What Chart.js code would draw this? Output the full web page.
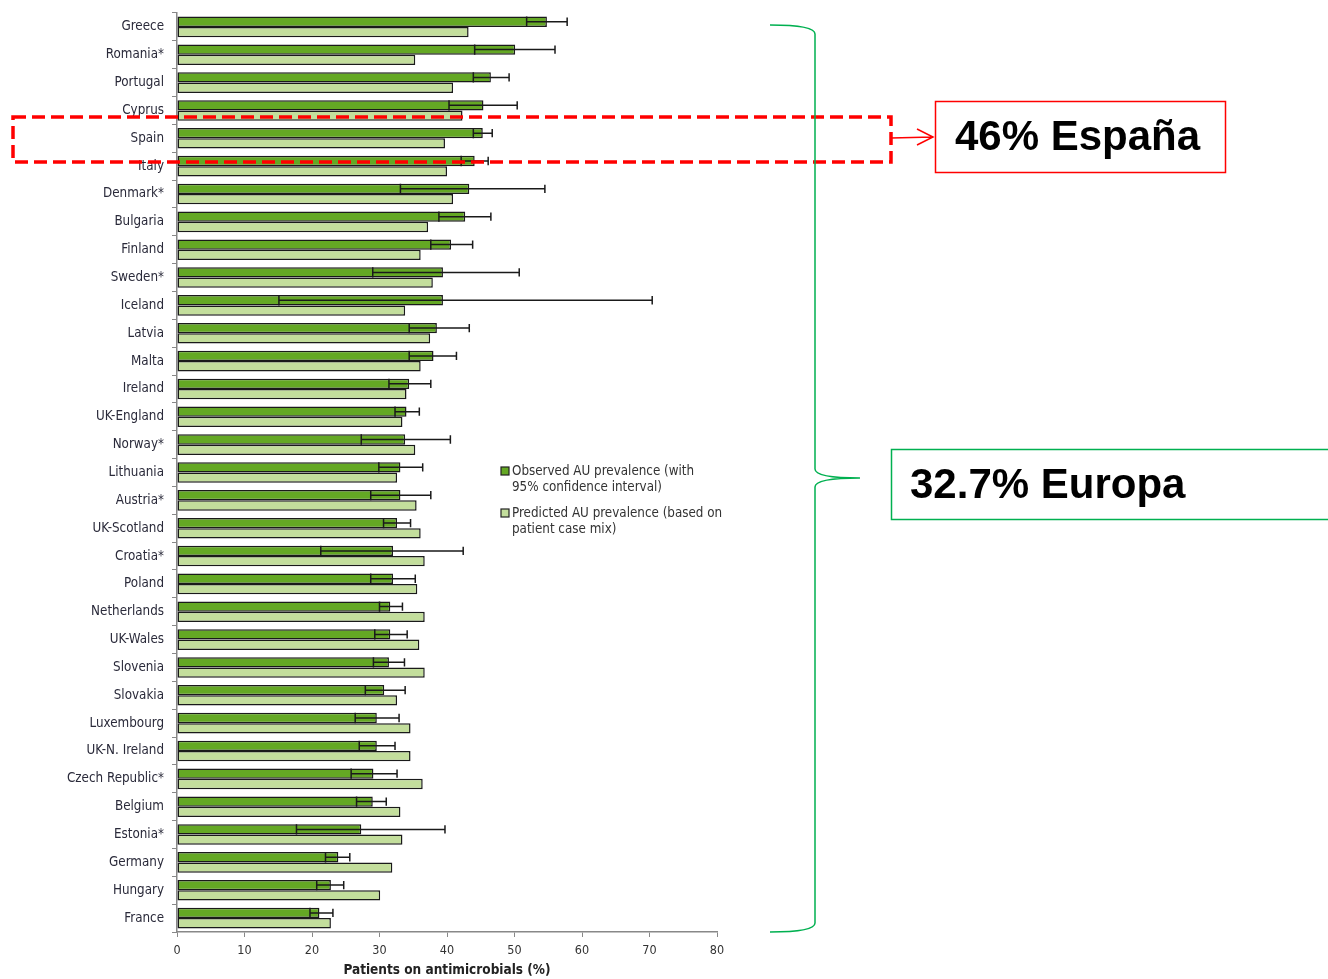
<!DOCTYPE html>
<html>
<head>
<meta charset="utf-8">
<script src="https://cdn.jsdelivr.net/npm/chart.js@4"></script>
<style>
  body { margin: 0; background: #fff; }
  canvas { display: block; }
</style>
</head>
<body>
<canvas id="myChart" width="1328" height="979"></canvas>
<script>
// countries, top to bottom
const countries = ['Greece', 'Romania*', 'Portugal', 'Cyprus', 'Spain', 'Italy', 'Denmark*', 'Bulgaria',
  'Finland', 'Sweden*', 'Iceland', 'Latvia', 'Malta', 'Ireland', 'UK-England', 'Norway*', 'Lithuania',
  'Austria*', 'UK-Scotland', 'Croatia*', 'Poland', 'Netherlands', 'UK-Wales', 'Slovenia', 'Slovakia',
  'Luxembourg', 'UK-N. Ireland', 'Czech Republic*', 'Belgium', 'Estonia*', 'Germany', 'Hungary', 'France'];

// observed AU prevalence (%)
const observed = [54.8, 50.1, 46.5, 45.4, 45.3, 44.1, 43.3, 42.7, 40.6, 39.4, 39.4, 38.5, 38.0, 34.4, 34.0,
  33.8, 33.1, 33.1, 32.6, 32.0, 32.0, 31.6, 31.6, 31.4, 30.7, 29.6, 29.6, 29.1, 29.0, 27.3, 23.9, 22.8, 21.1];

// 95% confidence interval
const lowCI = [51.8, 44.1, 43.9, 40.3, 43.9, 42.1, 33.1, 38.8, 37.6, 29.0, 15.1, 34.4, 34.4, 31.4, 32.3,
  27.3, 29.9, 28.7, 30.6, 21.3, 28.7, 30.0, 29.3, 29.1, 27.9, 26.4, 27.0, 25.8, 26.6, 17.7, 22.0, 20.7, 19.7];
const highCI = [57.8, 56.0, 49.2, 50.4, 46.7, 46.1, 54.5, 46.5, 43.8, 50.7, 70.4, 43.3, 41.4, 37.6, 35.9,
  40.5, 36.4, 37.6, 34.6, 42.4, 35.3, 33.4, 34.1, 33.7, 33.8, 32.9, 32.3, 32.6, 31.0, 39.7, 25.6, 24.7, 23.1];

// predicted AU prevalence (%)
const predicted = [43.2, 35.3, 40.9, 42.3, 39.7, 40.0, 40.9, 37.2, 36.1, 37.9, 33.8, 37.5, 36.1, 34.0, 33.4,
  35.3, 32.6, 35.5, 36.1, 36.7, 35.6, 36.7, 35.9, 36.7, 32.6, 34.6, 34.6, 36.4, 33.1, 33.4, 31.9, 30.1, 22.8];

const labelFont = '"DejaVu Sans Condensed", "Liberation Sans Narrow", "DejaVu Sans", sans-serif';

// error bars: line at lower bound inside the bar, whisker out to the upper bound
const errorBars = {
  id: 'errorBars',
  afterDatasetsDraw(chart) {
    const ctx = chart.ctx;
    const x = chart.scales.x;
    const meta = chart.getDatasetMeta(0);
    ctx.save();
    ctx.strokeStyle = '#1a1a1a';
    ctx.lineWidth = 1.5;
    meta.data.forEach(function(bar, i) {
      const h = bar.height / 2;
      const xl = x.getPixelForValue(lowCI[i]);
      const xh = x.getPixelForValue(highCI[i]);
      ctx.beginPath();
      ctx.moveTo(xl, bar.y - h); ctx.lineTo(xl, bar.y + h);
      ctx.moveTo(xl, bar.y); ctx.lineTo(xh, bar.y);
      ctx.moveTo(xh, bar.y - h + 1); ctx.lineTo(xh, bar.y + h - 1);
      ctx.stroke();
    });
    ctx.restore();
  }
};

// legend + the slide annotations (brace, boxes)
const extras = {
  id: 'extras',
  afterDraw(chart) {
    const ctx = chart.ctx;
    ctx.save();
    // legend
    const items = [
      { color: chart.data.datasets[0].backgroundColor, lines: ['Observed AU prevalence (with', '95% confidence interval)'], y: 467 },
      { color: chart.data.datasets[1].backgroundColor, lines: ['Predicted AU prevalence (based on', 'patient case mix)'], y: 509 }
    ];
    ctx.font = '13.3px ' + labelFont;
    ctx.textBaseline = 'middle';
    items.forEach(function(it) {
      ctx.fillStyle = it.color;
      ctx.fillRect(501, it.y, 8, 8);
      ctx.strokeStyle = '#222';
      ctx.lineWidth = 1.2;
      ctx.strokeRect(501, it.y, 8, 8);
      ctx.fillStyle = '#333';
      ctx.fillText(it.lines[0], 512, it.y + 5);
      ctx.fillText(it.lines[1], 512, it.y + 21);
    });

    // red dashed highlight around Spain
    ctx.strokeStyle = '#ff0000';
    ctx.lineWidth = 3.5;
    ctx.setLineDash([13, 6]);
    ctx.strokeRect(13, 117, 878, 45);
    ctx.setLineDash([]);

    // arrow
    ctx.lineWidth = 1.5;
    ctx.beginPath();
    ctx.moveTo(891, 138); ctx.lineTo(933, 137);
    ctx.moveTo(917, 129); ctx.lineTo(933, 137); ctx.lineTo(917, 145);
    ctx.stroke();

    // red box
    ctx.lineWidth = 1.5;
    ctx.strokeRect(935.5, 101.5, 290, 71);
    ctx.fillStyle = '#000';
    ctx.font = 'bold 42px "Liberation Sans", Arial, sans-serif';
    ctx.textBaseline = 'middle';
    ctx.fillText('46% España', 955, 138);

    // green brace
    ctx.strokeStyle = '#00b050';
    ctx.lineWidth = 1.5;
    ctx.beginPath();
    ctx.moveTo(770, 25);
    ctx.quadraticCurveTo(815, 25, 815, 34);
    ctx.lineTo(815, 469);
    ctx.quadraticCurveTo(815, 478, 860, 478);
    ctx.moveTo(860, 478);
    ctx.quadraticCurveTo(815, 478, 815, 487);
    ctx.lineTo(815, 923);
    ctx.quadraticCurveTo(815, 932, 770, 932);
    ctx.stroke();

    // green box
    ctx.lineWidth = 1.5;
    ctx.strokeRect(891.5, 449.5, 460, 70);
    ctx.fillStyle = '#000';
    ctx.fillText('32.7% Europa', 910, 486);
    ctx.restore();
  }
};

const ctx = document.getElementById('myChart').getContext('2d');
const myChart = new Chart(ctx, {
  type: 'bar',
  data: {
    labels: countries,
    datasets: [{
      label: 'Observed AU prevalence (with 95% confidence interval)',
      data: observed,
      backgroundColor: '#64a824',
      borderColor: '#1a1a1a',
      borderWidth: 1.5,
      borderSkipped: false
    }, {
      label: 'Predicted AU prevalence (based on patient case mix)',
      data: predicted,
      backgroundColor: '#c3de9c',
      borderColor: '#1a1a1a',
      borderWidth: 1.5,
      borderSkipped: false
    }]
  },
  options: {
    indexAxis: 'y',
    responsive: false,
    animation: false,
    devicePixelRatio: 1,
    categoryPercentage: 0.74,
    barPercentage: 1.0,
    layout: { padding: { left: 0, top: 13, right: 611, bottom: 0 } },
    plugins: { legend: { display: false }, tooltip: { enabled: false } },
    scales: {
      x: {
        min: 0,
        max: 80,
        ticks: { stepSize: 10, color: '#333', font: { family: labelFont, size: 12.5 }, padding: 6 },
        grid: { drawOnChartArea: false, tickLength: 5, color: '#888' },
        border: { color: '#888', width: 1.5 },
        title: { display: true, text: 'Patients on antimicrobials (%)', color: '#222',
                 font: { family: labelFont, size: 13.5, weight: 'bold' }, padding: { top: 2, bottom: 0 } },
        afterFit: function(scale) { scale.height = 47; }
      },
      y: {
        ticks: { color: '#2a2a3a', font: { family: labelFont, size: 13.3 }, padding: 8, autoSkip: false },
        grid: { offset: true, drawOnChartArea: false, tickLength: 5, color: '#888' },
        border: { color: '#888', width: 1.5 },
        afterFit: function(scale) {
          scale.width = 177;
          scale.paddingTop = 0;
          scale.paddingBottom = 0;
        }
      }
    }
  },
  plugins: [errorBars, extras]
});
</script>
</body>
</html>
